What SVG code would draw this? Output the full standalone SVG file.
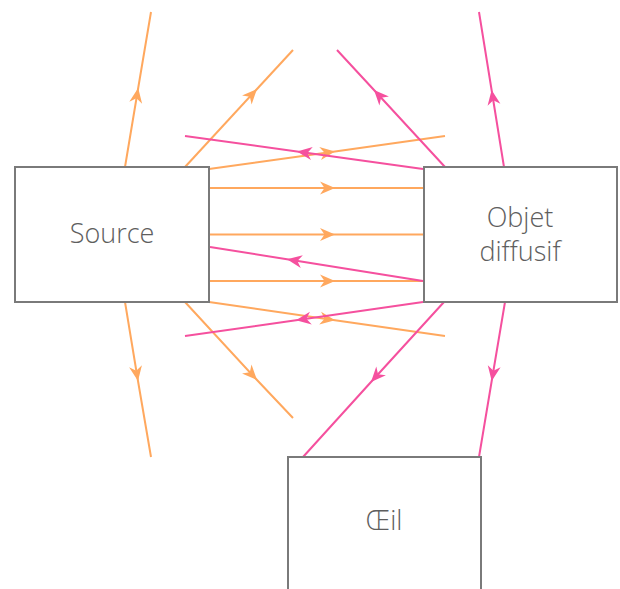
<svg xmlns="http://www.w3.org/2000/svg" width="620" height="589" viewBox="0 0 620 589">
<style>
.box{fill:#fff;stroke:#7a7a7a;stroke-width:2}
.lbl{font-family:"Open Sans","Liberation Sans",sans-serif;font-size:27px;font-weight:300;fill:#5e5e5e;text-anchor:middle}
.o{fill:none;stroke:#FFA85E;stroke-width:2;marker-mid:url(#ao)}
.p{fill:none;stroke:#F5509E;stroke-width:2;marker-mid:url(#ap)}
</style>
<defs>
<marker id="ao" markerUnits="userSpaceOnUse" markerWidth="18" markerHeight="16" refX="15" refY="6.5" orient="auto" overflow="visible"><path d="M15,6.5 L0,0 L4.5,6.5 L0,13 Z" fill="#FFA85E"/></marker>
<marker id="ap" markerUnits="userSpaceOnUse" markerWidth="18" markerHeight="16" refX="15" refY="6.5" orient="auto" overflow="visible"><path d="M15,6.5 L0,0 L4.5,6.5 L0,13 Z" fill="#F5509E"/></marker>
</defs>
<g id="connectors">
<path class="o" d="M125,167 L138.2,88 L151,12"/>
<path class="o" d="M185,167 L257,89 L293,50"/>
<path class="o" d="M209,169 L335,151.4 L445,136"/>
<path class="o" d="M209,188 L335,188 L424,188"/>
<path class="o" d="M209,234.5 L335,234.5 L424,234.5"/>
<path class="o" d="M209,281 L335,281 L424,281"/>
<path class="o" d="M209,302 L335,320.2 L445,336"/>
<path class="o" d="M185,302 L257,380 L293,418"/>
<path class="o" d="M125,302 L138,381 L151,457"/>
<path class="p" d="M423,169 L297,151.5 L185,136"/>
<path class="p" d="M445,167 L374,90 L337,50"/>
<path class="p" d="M504,167 L491.6,90 L479,12"/>
<path class="p" d="M423,281 L287,259.3 L210,247"/>
<path class="p" d="M423,302 L296,320.3 L185,336"/>
<path class="p" d="M444,302 L371,382 L303,457"/>
<path class="p" d="M505,302 L491.7,381 L479,457"/>
</g>
<g id="source"><rect class="box" x="15" y="167" width="194" height="135"/><text class="lbl" x="112" y="243">Source</text></g>
<g id="objet"><rect class="box" x="424" y="167" width="193" height="135"/><text class="lbl" x="520" y="227">Objet</text><text class="lbl" x="520" y="261">diffusif</text></g>
<g id="oeil"><rect class="box" x="288" y="457" width="193" height="140"/><text class="lbl" x="384" y="530">Œil</text></g>
</svg>
